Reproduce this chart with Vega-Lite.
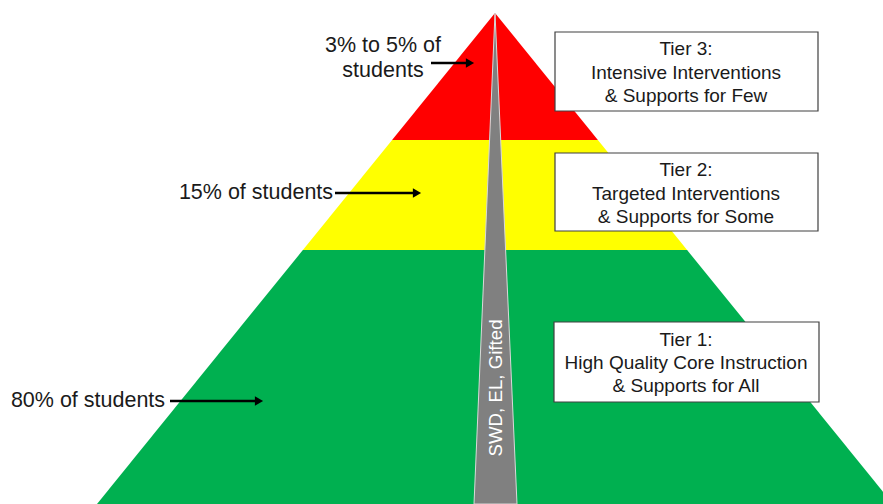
{
  "$schema": "https://vega.github.io/schema/vega-lite/v6.json",
  "width": 883,
  "height": 504,
  "padding": 0,
  "autosize": {"type": "none"},
  "background": "white",
  "config": {"view": {"stroke": null}},
  "datasets": {
    "bands": [
      {"band": "Tier 3", "y": 13, "xl": 495, "xr": 495},
      {"band": "Tier 3", "y": 140, "xl": 392.1, "xr": 597.9},
      {"band": "Tier 2", "y": 140, "xl": 392.1, "xr": 597.9},
      {"band": "Tier 2", "y": 250, "xl": 302.9, "xr": 687.1},
      {"band": "Tier 1", "y": 250, "xl": 302.9, "xr": 687.1},
      {"band": "Tier 1", "y": 504, "xl": 97, "xr": 893}
    ],
    "sliver": [
      {"y": 13, "xl": 495, "xr": 495},
      {"y": 504, "xl": 474, "xr": 517}
    ],
    "boxes": [
      {"tier": "Tier 3", "x1": 555, "x2": 818, "y1": 32, "y2": 111},
      {"tier": "Tier 2", "x1": 555, "x2": 818, "y1": 153, "y2": 231},
      {"tier": "Tier 1", "x1": 554, "x2": 819, "y1": 322, "y2": 402}
    ],
    "boxText": [
      {"x": 686, "y": 49, "text": "Tier 3:"},
      {"x": 686, "y": 72.5, "text": "Intensive Interventions"},
      {"x": 686, "y": 96, "text": "& Supports for Few"},
      {"x": 686, "y": 170, "text": "Tier 2:"},
      {"x": 686, "y": 193.5, "text": "Targeted Interventions"},
      {"x": 686, "y": 217, "text": "& Supports for Some"},
      {"x": 686, "y": 340, "text": "Tier 1:"},
      {"x": 686, "y": 363, "text": "High Quality Core Instruction"},
      {"x": 686, "y": 386, "text": "& Supports for All"}
    ],
    "labels": [
      {"x": 383, "y": 46, "text": "3% to 5% of"},
      {"x": 383, "y": 71, "text": "students"},
      {"x": 256, "y": 193, "text": "15% of students"},
      {"x": 88, "y": 401, "text": "80% of students"}
    ],
    "arrows": [
      {"x1": 431, "x2": 468, "y": 63, "head": 470},
      {"x1": 335, "x2": 415, "y": 193, "head": 417},
      {"x1": 170, "x2": 257, "y": 401, "head": 259}
    ],
    "sideText": [
      {"x": 495.5, "y": 388, "text": "SWD, EL, Gifted"}
    ]
  },
  "layer": [
    {
      "data": {"name": "bands"},
      "mark": {"type": "area", "orient": "horizontal", "interpolate": "linear", "clip": true},
      "encoding": {
        "y": {"field": "y", "type": "quantitative", "scale": {"domain": [0, 504], "nice": false, "zero": false, "reverse": true}, "axis": null},
        "x": {"field": "xl", "type": "quantitative", "stack": null, "scale": {"domain": [0, 883], "nice": false, "zero": false}, "axis": null},
        "x2": {"field": "xr"},
        "color": {"field": "band", "type": "nominal", "scale": {"domain": ["Tier 3", "Tier 2", "Tier 1"], "range": ["#FF0000", "#FFFF00", "#00B050"]}, "legend": null}
      }
    },
    {
      "data": {"name": "sliver"},
      "mark": {"type": "area", "orient": "horizontal", "color": "#808080", "stroke": "#D9D9D9", "strokeWidth": 1, "clip": true},
      "encoding": {
        "y": {"field": "y", "type": "quantitative"},
        "x": {"field": "xl", "type": "quantitative", "stack": null},
        "x2": {"field": "xr"}
      }
    },
    {
      "data": {"name": "boxes"},
      "mark": {"type": "rect", "fill": "white", "stroke": "#404040", "strokeWidth": 1.2},
      "encoding": {
        "x": {"field": "x1", "type": "quantitative"},
        "x2": {"field": "x2"},
        "y": {"field": "y1", "type": "quantitative"},
        "y2": {"field": "y2"}
      }
    },
    {
      "data": {"name": "boxText"},
      "mark": {"type": "text", "font": "Liberation Sans", "fontSize": 19, "color": "#1a1a1a", "align": "center", "baseline": "middle"},
      "encoding": {
        "x": {"field": "x", "type": "quantitative"},
        "y": {"field": "y", "type": "quantitative"},
        "text": {"field": "text"}
      }
    },
    {
      "data": {"name": "labels"},
      "mark": {"type": "text", "font": "Liberation Sans", "fontSize": 21.5, "color": "#1a1a1a", "align": "center", "baseline": "middle"},
      "encoding": {
        "x": {"field": "x", "type": "quantitative"},
        "y": {"field": "y", "type": "quantitative"},
        "text": {"field": "text"}
      }
    },
    {
      "data": {"name": "arrows"},
      "mark": {"type": "rule", "color": "black", "strokeWidth": 2.5},
      "encoding": {
        "x": {"field": "x1", "type": "quantitative"},
        "x2": {"field": "x2"},
        "y": {"field": "y", "type": "quantitative"}
      }
    },
    {
      "data": {"name": "arrows"},
      "mark": {"type": "point", "shape": "triangle-right", "filled": true, "color": "black", "size": 90, "opacity": 1},
      "encoding": {
        "x": {"field": "head", "type": "quantitative"},
        "y": {"field": "y", "type": "quantitative"}
      }
    },
    {
      "data": {"name": "sideText"},
      "mark": {"type": "text", "font": "Liberation Sans", "fontSize": 18.7, "color": "white", "angle": 270, "align": "center", "baseline": "middle"},
      "encoding": {
        "x": {"field": "x", "type": "quantitative"},
        "y": {"field": "y", "type": "quantitative"},
        "text": {"field": "text"}
      }
    }
  ]
}
